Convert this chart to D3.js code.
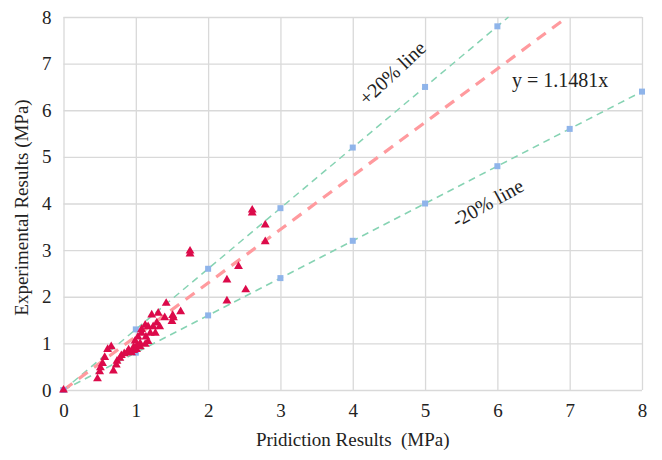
<!DOCTYPE html>
<html>
<head>
<meta charset="utf-8">
<script src="https://cdn.jsdelivr.net/npm/d3@7"></script>
<style>
  body { margin: 0; background: #fff; }
</style>
</head>
<body>
<div id="chart"></div>
<script>
// 1. DATA
const xTicks = [0, 1, 2, 3, 4, 5, 6, 7, 8]
const yTicks = [0, 1, 2, 3, 4, 5, 6, 7, 8]

// +20% line points (y = 1.3x), -20% line points (y = 0.8x)
const upperX = [0, 1, 2, 3, 4, 5, 6]
const upperY = [0, 1.3, 2.6, 3.9, 5.2, 6.5, 7.8]
const lowerX = [0, 1, 2, 3, 4, 5, 6, 7, 8]
const lowerY = [0, 0.8, 1.6, 2.4, 3.2, 4.0, 4.8, 5.6, 6.4]
const fitSlope = 1.1481

// measured points: prediction vs experiment
const predicted = [0,
  0.47, 0.50, 0.51, 0.54, 0.57, 0.61, 0.66, 0.69,
  0.73, 0.74, 0.78, 0.80, 0.84, 0.88, 0.90, 0.94, 0.97, 0.97, 1.01, 1.02, 1.06,
  0.99, 1.06, 1.03, 1.08, 1.08, 1.13, 1.14, 1.17, 1.13, 1.17, 1.20, 1.22, 1.24,
  1.27, 1.29, 1.31, 1.33, 1.40, 1.42, 1.50, 1.51, 1.52, 1.62,
  1.75, 1.75, 2.26, 2.26, 2.42, 2.52, 2.61, 2.61, 2.79, 2.79]
const experimental = [0,
  0.24, 0.39, 0.48, 0.57, 0.70, 0.87, 0.93, 0.41,
  0.54, 0.62, 0.68, 0.74, 0.78, 0.80, 0.86, 0.80, 0.85, 0.92, 0.87, 0.96, 0.93,
  1.05, 1.00, 1.14, 1.22, 1.30, 0.98, 1.14, 1.04, 1.39, 1.36, 1.22, 1.61, 1.36,
  1.22, 1.44, 1.65, 1.36, 1.55, 1.86, 1.47, 1.60, 1.55, 1.68,
  2.92, 2.98, 1.91, 2.36, 2.65, 2.15, 3.80, 3.86, 3.18, 3.54]

const serif = "'Liberation Serif', 'Times New Roman', 'DejaVu Serif', serif"

// 2. DIMENSIONS
const dimensions = {
  width: 662,
  height: 460,
  margin: { top: 17, right: 20, bottom: 70, left: 63.5 }
}
dimensions.boundedWidth = 642 - dimensions.margin.left
dimensions.boundedHeight = 390 - dimensions.margin.top

// 3. DRAW CANVAS
const wrapper = d3.select("#chart")
  .append("svg")
  .attr("width", dimensions.width)
  .attr("height", dimensions.height)
  .attr("font-family", serif)

const bounds = wrapper.append("g")
  .attr("transform", `translate(${dimensions.margin.left},${dimensions.margin.top})`)

// 4. SCALES
const xScale = d3.scaleLinear().domain([0, 8]).range([0, dimensions.boundedWidth])
const yScale = d3.scaleLinear().domain([0, 8]).range([dimensions.boundedHeight, 0])

// 5. GRID + AXES
const xAxis = bounds.append("g")
  .attr("transform", `translate(0,${dimensions.boundedHeight})`)
  .call(d3.axisBottom(xScale).tickValues(xTicks).tickSize(-dimensions.boundedHeight).tickPadding(14))
const yAxis = bounds.append("g")
  .call(d3.axisLeft(yScale).tickValues(yTicks).tickSize(-dimensions.boundedWidth).tickPadding(12))

;[xAxis, yAxis].forEach(ax => {
  ax.attr("font-family", serif).attr("font-size", 19)
  ax.select(".domain").remove()
  ax.selectAll(".tick line").attr("stroke", "#d9d9d9").attr("stroke-width", 1.3)
  ax.selectAll(".tick text").attr("fill", "#222")
})

// 6. LINES
const line = d3.line().x(d => xScale(d[0])).y(d => yScale(d[1]))

const upper = upperX.map((x, i) => [x, upperY[i]])
const lower = lowerX.map((x, i) => [x, lowerY[i]])

bounds.append("path")
  .datum([[0, 0], [8 / 1.3, 8]])
  .attr("d", line)
  .attr("fill", "none").attr("stroke", "#86d3b3").attr("stroke-width", 1.5)
  .attr("stroke-dasharray", "7,5")

bounds.append("path")
  .datum(lower)
  .attr("d", line)
  .attr("fill", "none").attr("stroke", "#86d3b3").attr("stroke-width", 1.5)
  .attr("stroke-dasharray", "7,5")

bounds.append("path")
  .datum([[0, 0], [6.9, 6.9 * fitSlope]])
  .attr("d", line)
  .attr("fill", "none").attr("stroke", "#ff9a9e").attr("stroke-width", 3.2)
  .attr("stroke-dasharray", "11,8")

bounds.selectAll("rect.m")
  .data(upper.concat(lower))
  .join("rect")
  .attr("class", "m")
  .attr("x", d => xScale(d[0]) - 3)
  .attr("y", d => yScale(d[1]) - 3)
  .attr("width", 6).attr("height", 6)
  .attr("fill", "#8fb4ea")

// 7. SCATTER
const tri = d3.symbol().type(d3.symbolTriangle).size(34)
bounds.selectAll("path.pt")
  .data(predicted.map((x, i) => [x, experimental[i]]))
  .join("path")
  .attr("class", "pt")
  .attr("d", tri)
  .attr("transform", d => `translate(${xScale(d[0])},${yScale(d[1])})`)
  .attr("fill", "#dc0a4a")

// 8. LABELS
const label = (sel) => sel.attr("font-family", serif).attr("font-size", 19).attr("fill", "#222")

wrapper.append("text")
  .attr("x", dimensions.margin.left + dimensions.boundedWidth / 2)
  .attr("y", 446)
  .attr("text-anchor", "middle")
  .call(label)
  .text("Pridiction Results  (MPa)")
  .style("white-space", "pre")

wrapper.append("text")
  .attr("transform", `translate(28,${dimensions.margin.top + dimensions.boundedHeight / 2 + 4}) rotate(-90)`)
  .attr("text-anchor", "middle")
  .call(label)
  .text("Experimental Results (MPa)")

wrapper.append("text")
  .attr("transform", "translate(397,78) rotate(-43)")
  .attr("text-anchor", "middle")
  .call(label)
  .attr("font-size", 20)
  .text("+20% line")

wrapper.append("text")
  .attr("x", 512).attr("y", 87)
  .call(label)
  .attr("font-size", 20)
  .text("y = 1.1481x")

wrapper.append("text")
  .attr("transform", "translate(491,209) rotate(-29)")
  .attr("text-anchor", "middle")
  .call(label)
  .attr("font-size", 20)
  .text("-20% line")
</script>
</body>
</html>
